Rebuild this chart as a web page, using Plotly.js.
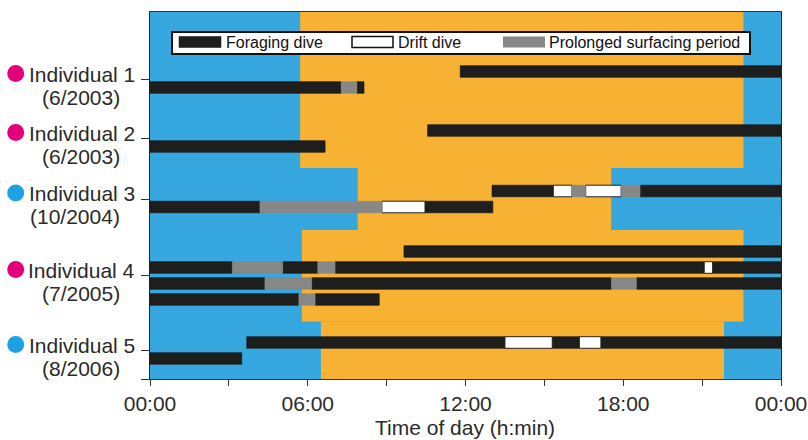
<!DOCTYPE html>
<html>
<head>
<meta charset="utf-8">
<script src="https://cdn.plot.ly/plotly-3.0.1.min.js"></script>
<style>html,body{margin:0;padding:0;background:#fff;}#chart{width:808px;height:440px;}</style>
</head>
<body>
<div id="chart"></div>
<script>
// ---------- DATA ----------
const individuals = ['Individual 1', 'Individual 2', 'Individual 3', 'Individual 4', 'Individual 5'];
const dates = ['(6/2003)', '(6/2003)', '(10/2004)', '(7/2005)', '(8/2006)'];
const sexColor = ['#E4007D', '#E4007D', '#1DA1E2', '#E4007D', '#1DA1E2'];
// row index -> individual index
const rowIndividual = [0, 0, 1, 1, 2, 2, 3, 3, 3, 3, 4, 4];

// Foraging dives (hours)
const forageRow   = [0, 1, 1, 2, 3, 4, 4, 5, 5, 6, 7, 7, 7, 7, 8, 8, 8, 9, 9, 10, 10, 10, 11];
const forageStart = [11.80, 0, 7.87, 10.56, 0, 13.01, 18.64, 0, 10.46, 9.66, 0, 5.05, 7.04, 21.40, 0, 6.15, 18.50, 0, 6.28, 3.68, 15.30, 17.15, 0];
const forageEnd   = [24, 7.27, 8.14, 24, 6.66, 15.34, 24, 4.18, 13.04, 24, 3.13, 6.38, 21.08, 24, 4.37, 17.55, 24, 5.66, 8.72, 13.50, 16.33, 24, 3.49];

// Drift dives (hours)
const driftRow   = [4, 4, 5, 7, 10, 10];
const driftStart = [15.34, 16.57, 8.82, 21.08, 13.50, 16.33];
const driftEnd   = [16.05, 17.92, 10.46, 21.40, 15.30, 17.15];

// Prolonged surfacing periods (hours)
const surfRow   = [1, 4, 4, 5, 7, 7, 8, 8, 9];
const surfStart = [7.27, 16.05, 17.92, 4.18, 3.13, 6.38, 4.37, 17.55, 5.66];
const surfEnd   = [7.87, 16.57, 18.64, 8.82, 5.05, 7.04, 6.15, 18.50, 6.28];

// Daylight (orange) per observation group: start / end hours
const dayStart = [5.71, 7.90, 5.78, 6.50];
const dayEnd   = [22.57, 17.54, 22.57, 21.83];

// Tick labels
const tickHours = [0, 3, 6, 9, 12, 15, 18, 21, 24];
const tickText  = ['00:00', '', '06:00', '', '12:00', '', '18:00', '', '00:00'];

// ---------- LAYOUT POSITIONS (y axis in pixel-like units, 0 = top) ----------
const rowY = [59.5, 75.5, 118.5, 134.5, 179, 195, 239.5, 255.5, 271.5, 287.5, 330.5, 346.5];
const groupMid = [67.5, 126.5, 187, 263.5, 338.5];
const dayBands = [[0, 156], [156, 218], [218, 309.5], [309.5, 367]];
const BAR_W = 11.6;
const Y_MAX = 367;

const BLUE = '#36A8DF';
const ORANGE = '#F7B133';
const BLACK = '#1E1E1C';
const GRAY = '#878787';
const FONT = '"Liberation Sans", Arial, Helvetica, sans-serif';
const TXT = '#2a2a2a';

function barTrace(rows, starts, ends, color, lineColor, lineWidth, name) {
  return {
    type: 'bar', orientation: 'h', name: name,
    y: rows.map(r => rowY[r]),
    base: starts,
    x: starts.map((s, i) => ends[i] - s),
    width: rows.map(() => BAR_W),
    marker: {color: color, line: {color: lineColor, width: lineWidth}},
    showlegend: false, hoverinfo: 'skip'
  };
}

const traces = [
  barTrace(forageRow, forageStart, forageEnd, BLACK, '#111', 0.6, 'Foraging dive'),
  barTrace(driftRow, driftStart, driftEnd, '#FFFFFF', '#222', 1, 'Drift dive'),
  barTrace(surfRow, surfStart, surfEnd, GRAY, GRAY, 0.5, 'Prolonged surfacing period')
];

// pixel -> paper helpers
const L = 150, R = 781, T = 12, B = 379;
const px = v => (v - L) / (R - L);
const py = v => (B - v) / (B - T);

const shapes = [];
// night background
shapes.push({type: 'rect', xref: 'x', yref: 'y', x0: 0, x1: 24, y0: 0, y1: Y_MAX, fillcolor: BLUE, line: {width: 0}, layer: 'below'});
dayBands.forEach((b, i) => {
  shapes.push({type: 'rect', xref: 'x', yref: 'y', x0: dayStart[i], x1: dayEnd[i], y0: b[0], y1: b[1], fillcolor: ORANGE, line: {width: 0}, layer: 'below'});
});

// legend box
shapes.push({type: 'rect', xref: 'paper', yref: 'paper', x0: px(172), x1: px(750), y0: py(32), y1: py(54), fillcolor: '#fff', line: {color: '#111', width: 2}});
shapes.push({type: 'rect', xref: 'paper', yref: 'paper', x0: px(179), x1: px(221), y0: py(36.5), y1: py(47.5), fillcolor: BLACK, line: {color: '#111', width: 0.5}});
shapes.push({type: 'rect', xref: 'paper', yref: 'paper', x0: px(352), x1: px(393), y0: py(36.5), y1: py(47.5), fillcolor: '#fff', line: {color: '#111', width: 1.5}});
shapes.push({type: 'rect', xref: 'paper', yref: 'paper', x0: px(503), x1: px(545), y0: py(36.5), y1: py(47.5), fillcolor: GRAY, line: {width: 0}});

const annotations = [];
const legendTexts = [['Foraging dive', 225], ['Drift dive', 397], ['Prolonged surfacing period', 548]];
legendTexts.forEach(([t, x]) => {
  annotations.push({xref: 'paper', yref: 'paper', x: px(x), y: py(42.5), text: t, showarrow: false, xanchor: 'left', yanchor: 'middle', font: {family: FONT, size: 16, color: '#111'}, borderpad: 0});
});

// y labels and sex markers
individuals.forEach((name, i) => {
  const m = groupMid[i];
  annotations.push({xref: 'paper', yref: 'y', x: px(136), y: m - 5.5, text: name, showarrow: false, xanchor: 'right', yanchor: 'middle', font: {family: FONT, size: 21, color: TXT}, borderpad: 0});
  annotations.push({xref: 'paper', yref: 'y', x: px(121), y: m + 17.5, text: dates[i], showarrow: false, xanchor: 'right', yanchor: 'middle', font: {family: FONT, size: 21, color: TXT}, borderpad: 0});
  shapes.push({type: 'circle', xref: 'paper', yref: 'y', xsizemode: 'pixel', ysizemode: 'pixel',
    xanchor: px(15.7), yanchor: m - 6, x0: -8.5, x1: 8.5, y0: -8.5, y1: 8.5,
    fillcolor: sexColor[i], line: {width: 0}});
});

// x axis title
annotations.push({xref: 'paper', yref: 'paper', x: px(465), y: py(427), text: 'Time of day (h:min)', showarrow: false, xanchor: 'center', yanchor: 'middle', font: {family: FONT, size: 21, color: TXT}, borderpad: 0});

const layout = {
  width: 808, height: 440,
  margin: {l: L, r: 808 - R, t: T, b: 440 - B, pad: 0},
  paper_bgcolor: '#fff', plot_bgcolor: BLUE,
  barmode: 'overlay', bargap: 0,
  showlegend: false,
  xaxis: {
    range: [0, 24], tickvals: tickHours, ticktext: tickText,
    ticks: 'outside', ticklen: 6, tickwidth: 1, tickcolor: '#333',
    showline: true, linecolor: '#333', linewidth: 1, mirror: true,
    showgrid: false, zeroline: false,
    tickfont: {family: FONT, size: 21, color: TXT}
  },
  yaxis: {
    range: [Y_MAX, 0], tickvals: groupMid.concat([Y_MAX]), ticktext: groupMid.map(() => '').concat(['']),
    ticks: 'outside', ticklen: 8, tickwidth: 1, tickcolor: '#333',
    showline: true, linecolor: '#222', linewidth: 1, mirror: true,
    showgrid: false, zeroline: false
  },
  shapes: shapes,
  annotations: annotations,
  font: {family: FONT}
};

Plotly.newPlot('chart', traces, layout, {staticPlot: true, displayModeBar: false});
</script>
</body>
</html>
